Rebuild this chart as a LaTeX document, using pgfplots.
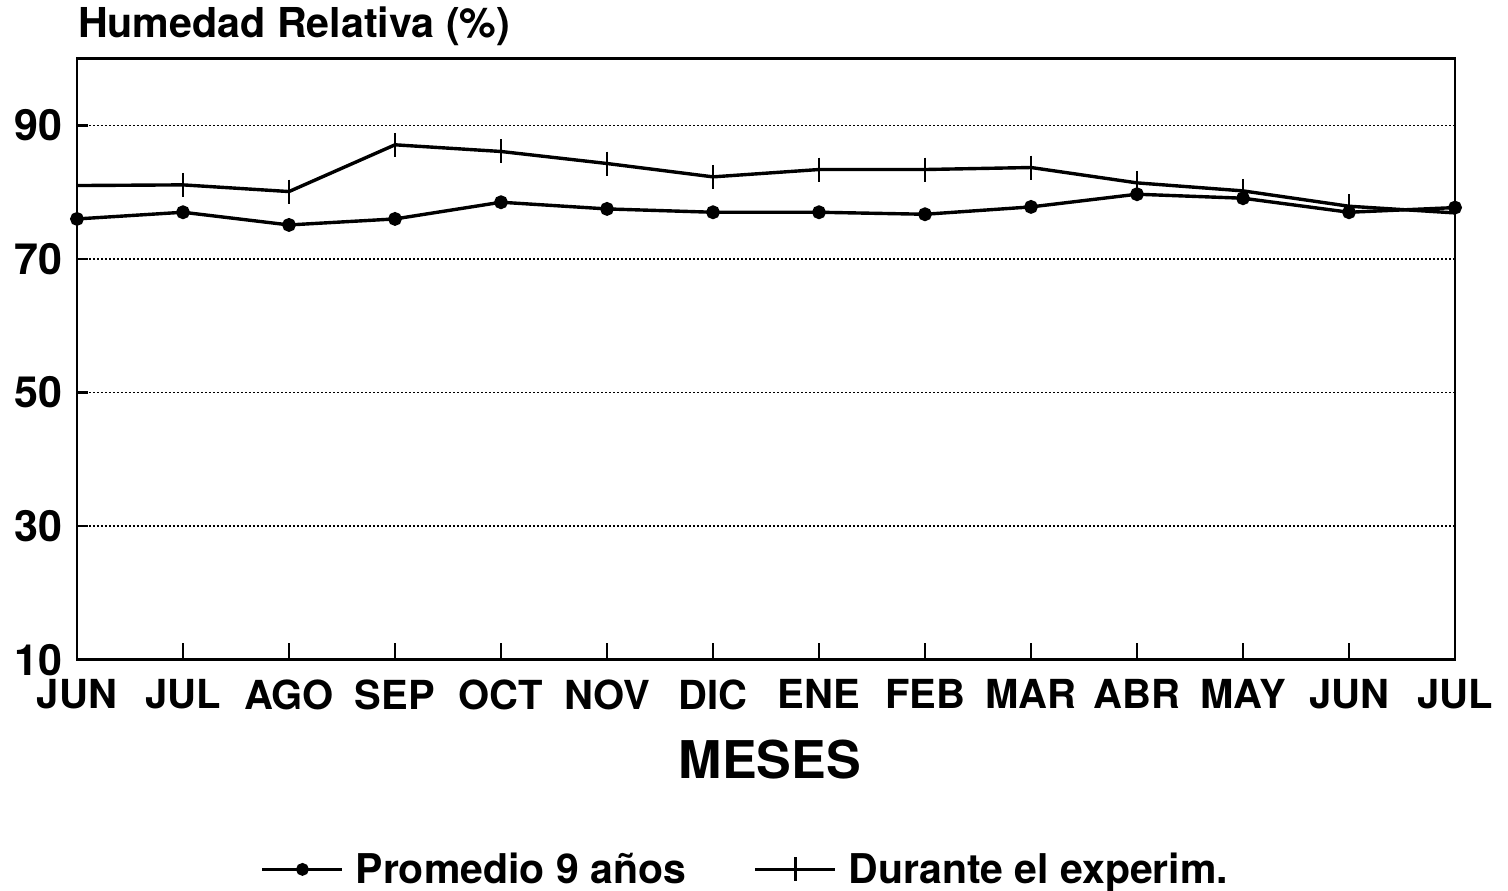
\documentclass[border=0pt]{standalone}
\usepackage{fontspec}
\setmainfont{TeX Gyre Heros}
\usepackage{pgfplots}
\pgfplotsset{compat=1.18}
\begin{document}
\begin{tikzpicture}
\begin{axis}[
  scale only axis,
  width=689pt, height=300.5pt,
  xmin=0, xmax=13, ymin=10, ymax=100,
  clip=false,
  axis line style={line width=1.4pt},
  xtick={0,...,13},
  xticklabels={JUN,JUL,AGO,SEP,OCT,NOV,DIC,ENE,FEB,MAR,ABR,MAY,JUN,JUL},
  ytick={10,30,50,70,90},
  xtick pos=bottom, ytick pos=left,
  tick align=inside,
  xtick style={line width=1.1pt, black, /pgfplots/major tick length=8.5pt},
  ytick style={line width=1.1pt, black, /pgfplots/major tick length=5.5pt},
  ymajorgrids,
  major grid style={line width=0.8pt, black, dash pattern=on 0.8pt off 1.2pt},
  /pgf/number format/assume math mode=true,
  ticklabel style={font=\fontsize{20}{22}\selectfont\bfseries},
  yticklabel style={xshift=-4pt, font=\fontsize{21.5}{23}\selectfont\bfseries},
  xticklabel style={yshift=-6.5pt},
  xlabel={MESES},
  xlabel style={font=\fontsize{26}{28}\selectfont\bfseries, yshift=-8pt, xshift=2pt},
  title={Humedad Relativa (\%)},
  title style={at={(0,1)}, anchor=south west, xshift=-3pt, yshift=-3pt, font=\fontsize{20.6}{22}\selectfont\bfseries},
  legend columns=2,
  legend style={draw=none, inner sep=0pt, at={(0.486,-0.349)}, anchor=center, font=\fontsize{20.5}{22}\selectfont\bfseries,
    /tikz/every odd column/.append style={column sep=4pt},
    /tikz/every even column/.append style={column sep=32pt}},
  legend image code/.code={\draw[#1, line width=1.2pt, mark repeat=2, mark phase=2] plot coordinates {(0pt,0pt) (20pt,0pt) (40pt,0pt)};},
]
\addplot[black, line width=1.7pt, mark=*, mark size=2.6pt] coordinates {
 (0,76.0) (1,77.0) (2,75.1) (3,76.0) (4,78.5) (5,77.5) (6,77.0) (7,77.0) (8,76.7) (9,77.8) (10,79.7) (11,79.1) (12,77.0) (13,77.7)};
\addlegendentry{Promedio 9 años}
\addplot[black, line width=1.7pt, mark=|, mark size=6pt, mark options={line width=1.3pt}] coordinates {
 (0,81.0) (1,81.1) (2,80.1) (3,87.1) (4,86.1) (5,84.3) (6,82.3) (7,83.4) (8,83.4) (9,83.7) (10,81.4) (11,80.2) (12,77.9) (13,76.9)};
\addlegendentry{Durante el experim.}
\path (rel axis cs:0,0) ++(-38.5pt,-115pt) (rel axis cs:1,1) ++(26.5pt,29pt);
\end{axis}
\end{tikzpicture}
\end{document}
